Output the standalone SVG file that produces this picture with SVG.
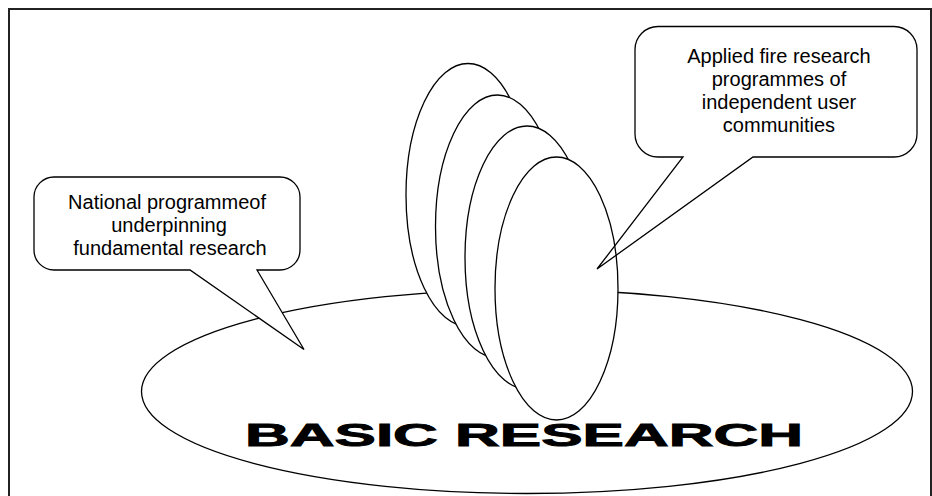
<svg xmlns="http://www.w3.org/2000/svg" width="932" height="496" viewBox="0 0 932 496">
<style>
.shape{fill:#fff;stroke:#000;stroke-width:1.3}
.lbl{font-family:"Liberation Sans",Arial,sans-serif;font-size:20px;fill:#000;text-anchor:middle}
.big{font-family:"Liberation Sans",Arial,sans-serif;font-size:32px;font-weight:bold;fill:#000;stroke:#000;stroke-width:0.9}
</style>
<rect width="932" height="496" fill="#fff"/>
<path d="M9,500 V9 H931 V500" fill="none" stroke="#222" stroke-width="2"/>
<g id="basic-research">
<ellipse class="shape" cx="527" cy="391.5" rx="385.5" ry="102"/>
<text class="big" x="245" y="445.5" textLength="558" lengthAdjust="spacingAndGlyphs">BASIC RESEARCH</text>
</g>
<g id="disks">
<ellipse id="disk1" class="shape" cx="468" cy="195" rx="62" ry="131.5"/>
<ellipse id="disk2" class="shape" cx="497.5" cy="226.5" rx="62" ry="131.5"/>
<ellipse id="disk3" class="shape" cx="527" cy="257.5" rx="62" ry="131.5"/>
<ellipse id="disk4" class="shape" cx="556.5" cy="288.5" rx="61.5" ry="131.5"/>
</g>
<g id="callout-national">
<path class="shape" d="M54,177 H280 A20,20 0 0 1 300,197 V250 A20,20 0 0 1 280,270 H257 L304,349.5 L190,270 H54 A20,20 0 0 1 34,250 V197 A20,20 0 0 1 54,177 Z"/>
<text class="lbl" x="167" y="209">National programmeof</text>
<text class="lbl" x="169" y="232">underpinning</text>
<text class="lbl" x="170" y="255">fundamental research</text>
</g>
<g id="callout-applied">
<path d="M658,26.5 H894 A23,23 0 0 1 917,49.5 V134 A23,23 0 0 1 894,157 H753 L597,269 L683,157 H658 A23,23 0 0 1 635,134 V49.5 A23,23 0 0 1 658,26.5 Z" fill="none" stroke="#000" stroke-width="1.3"/>
<text class="lbl" x="779" y="62.5">Applied fire research</text>
<text class="lbl" x="779" y="85.8">programmes of</text>
<text class="lbl" x="779" y="109.1">independent user</text>
<text class="lbl" x="779" y="132.4">communities</text>
</g>
</svg>
